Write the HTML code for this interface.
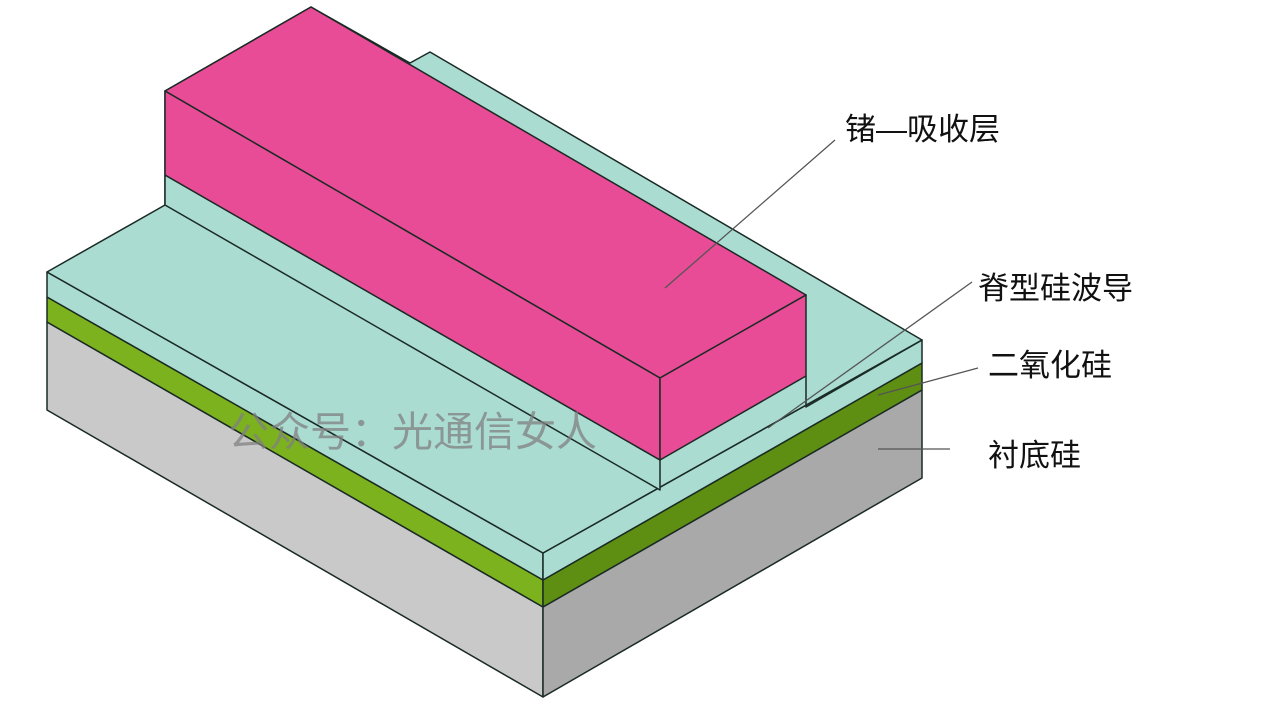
<!DOCTYPE html>
<html><head><meta charset="utf-8"><style>
html,body{margin:0;padding:0;background:#fff;}
svg{display:block;}
text{font-family:"Liberation Sans","Noto Sans CJK SC",sans-serif;}
</style></head><body>
<svg width="1268" height="714" viewBox="0 0 1268 714" xmlns="http://www.w3.org/2000/svg">
<g stroke="#1a2a24" stroke-width="1.5" stroke-linejoin="round">
<polygon points="47,322 543,607 543,697 47,410" fill="#c9c9c9"/>
<polygon points="47,297 543,580 543,607 47,322" fill="#7cb21e"/>
<polygon points="47,272 543,553 543,580 47,297" fill="#aadcd2"/>
<polygon points="543,607 922,390 922,478 543,697" fill="#a9a9a9"/>
<polygon points="543,580 922,363 922,390 543,607" fill="#5e8e12"/>
<polygon points="543,553 922,340 922,363 543,580" fill="#aadcd2"/>
<polygon points="47,272 165,205 165,91 311,7 410,63 430,52 922,340 543,553" fill="#aadcd2"/>
<polyline points="806,376 806,407 922,340" fill="none"/>
<polygon points="165,175 660,460 660,490 165,205" fill="#aadcd2"/>
<polygon points="165,91 311,7 806,295 660,378" fill="#e84c96"/>
<polygon points="165,91 660,378 660,460 165,175" fill="#e84c96"/>
<polygon points="660,378 806,295 806,376 660,460" fill="#e84c96"/>
</g>
<g stroke="#555" stroke-width="1.3">
<line x1="835" y1="140" x2="665" y2="288"/>
<line x1="972" y1="282" x2="768" y2="428"/>
<line x1="978" y1="368" x2="878" y2="395"/>
<line x1="878" y1="449" x2="950" y2="449"/>
</g>
<g font-size="31" fill="#111">
<text x="845" y="140">锗—吸收层</text>
<text x="978" y="299">脊型硅波导</text>
<text x="988" y="376">二氧化硅</text>
<text x="988" y="466">衬底硅</text>
</g>
<text x="228" y="446" font-size="41" fill="#808080" fill-opacity="0.75">公众号：光通信女人</text>
</svg>
</body></html>
